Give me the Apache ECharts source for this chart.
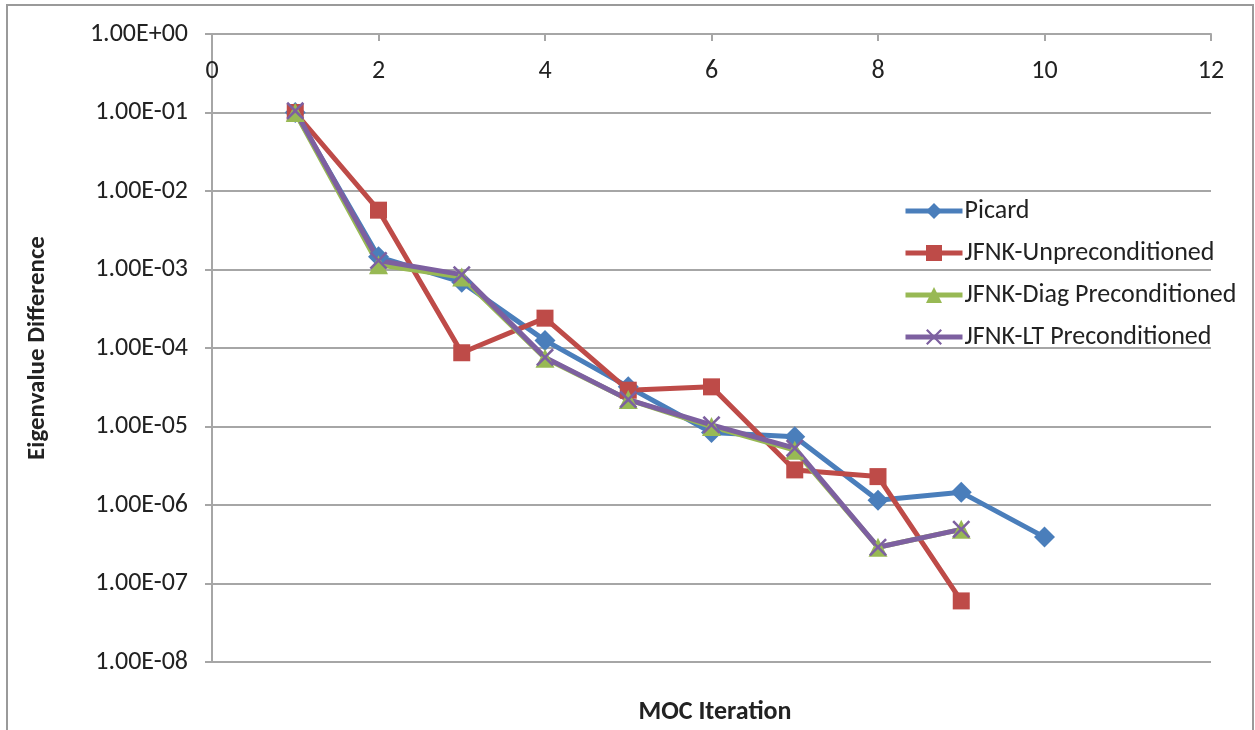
<!DOCTYPE html>
<html>
<head>
<meta charset="utf-8">
<script src="https://cdn.jsdelivr.net/npm/echarts@6/dist/echarts.min.js"></script>
<style>
  html, body { margin: 0; padding: 0; background: #fff; }
  #chart { width: 1255px; height: 730px; }
</style>
</head>
<body>
<div id="chart"></div>
<script>
// MOC iteration numbers
const iterations = [1, 2, 3, 4, 5, 6, 7, 8, 9, 10];

// eigenvalue difference per iteration
const picard = [1.0e-1, 1.45e-3, 6.9e-4, 1.25e-4, 3.2e-5, 8.4e-6, 7.4e-6, 1.15e-6, 1.45e-6, 3.9e-7];
const jfnkUnprec = [1.0e-1, 5.7e-3, 8.7e-5, 2.4e-4, 2.9e-5, 3.2e-5, 2.8e-6, 2.3e-6, 6.0e-8];
const jfnkDiag = [1.0e-1, 1.15e-3, 8.0e-4, 7.4e-5, 2.2e-5, 1.0e-5, 5.0e-6, 2.9e-7, 4.9e-7];
const jfnkLT = [1.05e-1, 1.3e-3, 8.6e-4, 7.6e-5, 2.2e-5, 1.05e-5, 5.3e-6, 2.9e-7, 4.9e-7];

const seriesNames = ["Picard", "JFNK-Unpreconditioned", "JFNK-Diag Preconditioned", "JFNK-LT Preconditioned"];
const xTicks = { min: 0, max: 12, step: 2 };
const yRange = { min: 1e-8, max: 1 };

const FONT = "'Carlito', 'Lato', 'Noto Sans', sans-serif";
const GRID_GRAY = "#a6a6a6";
const crossPath = "path://M0,1 L1,0 L5,4 L9,0 L10,1 L6,5 L10,9 L9,10 L5,6 L1,10 L0,9 L4,5 Z";

function pairs(values) {
  return values.map((v, i) => [iterations[i], v]);
}

function sciLabel(v) {
  const exp = Math.round(Math.log10(v));
  const sign = exp < 0 ? "-" : "+";
  const abs = String(Math.abs(exp)).padStart(2, "0");
  return "1.00E" + sign + abs;
}

const styles = [
  { color: "#4a7ebb", symbol: "diamond", size: 21 },
  { color: "#be4b48", symbol: "rect", size: 17 },
  { color: "#98b954", symbol: "triangle", size: 19 },
  { color: "#7d60a0", symbol: crossPath, size: 18 },
];

const allData = [picard, jfnkUnprec, jfnkDiag, jfnkLT];

const chart = echarts.init(document.getElementById("chart"));

const option = {
  animation: false,
  backgroundColor: "#fff",
  graphic: [{
    type: "rect",
    shape: { x: 7, y: 5, width: 1246, height: 760 },
    style: { fill: "none", stroke: "#9a9a9a", lineWidth: 2 },
    silent: true,
  }],
  title: {
    text: "MOC Iteration",
    left: 715,
    top: 699,
    textAlign: "center",
    padding: 0,
    textStyle: { fontFamily: FONT, fontSize: 26, fontWeight: "bold", color: "#222" },
  },
  grid: { left: 212, right: 44, top: 34, bottom: 68 },
  legend: {
    orient: "vertical",
    left: 903,
    top: 196,
    padding: 0,
    itemWidth: 57,
    itemHeight: 20,
    itemGap: 12,
    lineStyle: { width: 5 },
    textStyle: { fontFamily: FONT, fontSize: 26, lineHeight: 30, color: "#222", padding: [0, 0, 0, -3] },
    data: seriesNames,
  },
  xAxis: {
    type: "value",
    position: "top",
    min: xTicks.min,
    max: xTicks.max,
    interval: xTicks.step,
    axisLine: { show: true, lineStyle: { color: GRID_GRAY, width: 2 } },
    axisTick: { show: true, inside: true, length: 7, lineStyle: { color: GRID_GRAY, width: 2 } },
    axisLabel: { inside: true, margin: 24, fontFamily: FONT, fontSize: 26, color: "#222" },
    splitLine: { show: false },
  },
  yAxis: {
    type: "log",
    logBase: 10,
    min: yRange.min,
    max: yRange.max,
    name: "Eigenvalue Difference",
    nameLocation: "middle",
    nameGap: 162,
    nameTextStyle: { fontFamily: FONT, fontSize: 25, fontWeight: "bold", color: "#222" },
    axisLine: { show: true, lineStyle: { color: GRID_GRAY, width: 2 } },
    axisTick: { show: true, length: 7, lineStyle: { color: GRID_GRAY, width: 2 } },
    minorTick: { show: false },
    axisLabel: { margin: 24, fontFamily: FONT, fontSize: 26, color: "#222", formatter: sciLabel },
    splitLine: { show: true, lineStyle: { color: GRID_GRAY, width: 2 } },
  },
  series: seriesNames.map((name, i) => ({
    name,
    type: "line",
    data: pairs(allData[i]),
    symbol: styles[i].symbol,
    symbolSize: styles[i].size,
    showAllSymbol: true,
    lineStyle: { color: styles[i].color, width: 5 },
    itemStyle: { color: styles[i].color },
  })),
};

chart.setOption(option);
</script>
</body>
</html>
